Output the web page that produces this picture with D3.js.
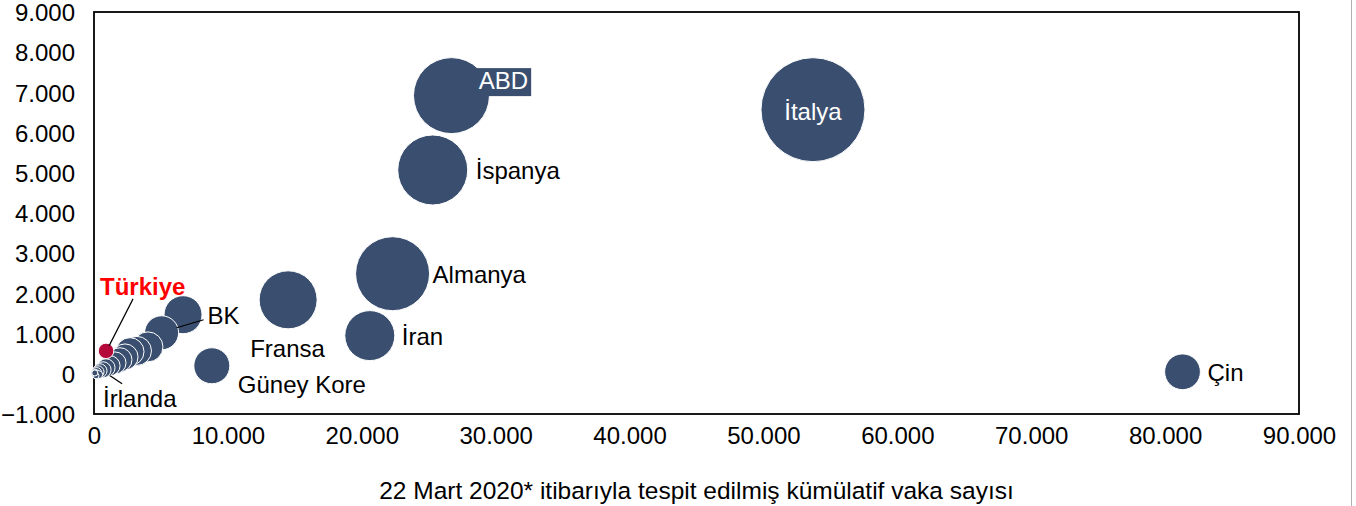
<!DOCTYPE html>
<html>
<head>
<meta charset="utf-8">
<script src="https://cdn.jsdelivr.net/npm/d3@7"></script>
<style>
  html, body { margin: 0; padding: 0; background: #fff; }
  svg { display: block; font-family: "Liberation Sans", Arial, sans-serif; }
</style>
</head>
<body>
<svg id="chart" width="1356" height="506"></svg>
<script>
// ---- Data ----
const countries = ["Çin","İtalya","ABD","İspanya","Almanya","İran","Fransa","Güney Kore","İsviçre","BK",
  "Hollanda","Avusturya","Belçika","Norveç","İsveç","Danimarka","Portekiz","Çekya","İrlanda","İsrail",
  "Lüksemburg","Finlandiya","Yunanistan","Polonya","Slovenya","İzlanda","Türkiye"];
const cases = [81300, 53700, 26700, 25300, 22300, 20600, 14500, 8800, 6650, 5050,
  4030, 3210, 2690, 2320, 1940, 1570, 1200, 900, 680, 450,
  300, 200, 120, 350, 150, 60, 900];
const yValues = [50, 6570, 6920, 5070, 2490, 950, 1840, 200, 1470, 1020,
  670, 570, 550, 420, 350, 270, 200, 150, 100, 75,
  50, 30, 10, -20, -50, 20, 570];
const sizes = [320, 2704, 1444, 1225, 1369, 625, 841, 324, 361, 289,
  225, 210, 196, 169, 144, 121, 100, 81, 64, 49,
  36, 25, 16, 16, 9, 9, 60];
const xTicks = [0, 10000, 20000, 30000, 40000, 50000, 60000, 70000, 80000, 90000];
const yTicks = [-1000, 0, 1000, 2000, 3000, 4000, 5000, 6000, 7000, 8000, 9000];
const xTitle = "22 Mart 2020* itibarıyla tespit edilmiş kümülatif vaka sayısı";
const highlight = "Türkiye";

// ---- Layout / style ----
const plot = { left: 94, top: 12, right: 1299, bottom: 414 };
const navy = "#3a4f6f";
const red = "#b5083a";
const labelCfg = {
  "ABD":        { dx: 52, dy: -15, anchor: "middle", color: "#fff", box: true },
  "İtalya":     { dx: 0, dy: 2, anchor: "middle", color: "#fff" },
  "İspanya":    { dx: 43, dy: 1, anchor: "start", color: "#000" },
  "Almanya":    { dx: 40, dy: 1, anchor: "start", color: "#000" },
  "Fransa":     { dx: -38, dy: 49, anchor: "start", color: "#000" },
  "İran":       { dx: 32, dy: 1, anchor: "start", color: "#000" },
  "Güney Kore": { dx: 26, dy: 19, anchor: "start", color: "#000" },
  "Çin":        { dx: 25, dy: 1, anchor: "start", color: "#000" },
  "BK":         { dx: 46, dy: -17, anchor: "start", color: "#000", leader: [[15, -5], [42, -13]] },
  "Türkiye":    { dx: -6, dy: -64, anchor: "start", color: "#ff0000", bold: true, leader: [[3, -5], [27, -52]] },
  "İrlanda":    { dx: 0, dy: 29, anchor: "start", color: "#000", leader: [[7, 6], [19, 14]] }
};

const svg = d3.select("#chart");

const x = d3.scaleLinear().domain([0, 90000]).range([plot.left, plot.right]);
const y = d3.scaleLinear().domain([-1000, 9000]).range([plot.bottom, plot.top]);
const r = d3.scaleSqrt().domain([0, d3.max(sizes)]).range([0, 52]);

const fmt = v => d3.format(",")(v).replace(/,/g, ".");

// outer frame line on the right
svg.append("line").attr("x1", 1351.5).attr("x2", 1351.5).attr("y1", 0).attr("y2", 506)
  .attr("stroke", "#b0b0b0").attr("stroke-width", 1);

// axes (labels only)
const xAxis = d3.axisBottom(x).tickValues(xTicks).tickFormat(fmt).tickSize(0).tickPadding(13);
const gx = svg.append("g").attr("transform", `translate(0,${plot.bottom})`).call(xAxis);
gx.select(".domain").remove();
gx.selectAll("text").attr("font-size", 24).attr("fill", "#000")
  .attr("font-family", "Liberation Sans, Arial, sans-serif");

const yAxis = d3.axisLeft(y).tickValues(yTicks).tickFormat(fmt).tickSize(0).tickPadding(19);
const gy = svg.append("g").attr("transform", `translate(${plot.left},0)`).call(yAxis);
gy.select(".domain").remove();
gy.selectAll("text").attr("font-size", 24).attr("fill", "#000").attr("dy", "0.36em")
  .attr("font-family", "Liberation Sans, Arial, sans-serif");

// plot frame
svg.append("rect")
  .attr("x", plot.left).attr("y", plot.top)
  .attr("width", plot.right - plot.left).attr("height", plot.bottom - plot.top)
  .attr("fill", "none").attr("stroke", "#000").attr("stroke-width", 1.8);

// axis title
svg.append("text")
  .attr("x", (plot.left + plot.right) / 2).attr("y", 499)
  .attr("text-anchor", "middle").attr("font-size", 24.5).attr("fill", "#000")
  .text(xTitle);

// bubbles
const data = countries.map((c, i) => ({ name: c, cases: cases[i], y: yValues[i], size: sizes[i] }));
svg.append("g").selectAll("circle")
  .data(data)
  .join("circle")
  .attr("cx", d => x(d.cases))
  .attr("cy", d => y(d.y))
  .attr("r", d => r(d.size))
  .attr("fill", d => d.name === highlight ? red : navy)
  .attr("stroke", "#fff")
  .attr("stroke-width", 1);

// labels
const lg = svg.append("g");
data.forEach(d => {
  const cfg = labelCfg[d.name];
  if (!cfg) return;
  const cx = x(d.cases), cy = y(d.y);
  if (cfg.leader) {
    lg.append("line")
      .attr("x1", cx + cfg.leader[0][0]).attr("y1", cy + cfg.leader[0][1])
      .attr("x2", cx + cfg.leader[1][0]).attr("y2", cy + cfg.leader[1][1])
      .attr("stroke", "#000").attr("stroke-width", 1.2);
  }
  const t = lg.append("text")
    .attr("x", cx + cfg.dx).attr("y", cy + cfg.dy)
    .attr("text-anchor", cfg.anchor)
    .attr("dominant-baseline", "central")
    .attr("font-size", 24)
    .attr("font-weight", cfg.bold ? "bold" : "normal")
    .attr("fill", cfg.color)
    .text(d.name);
  if (cfg.box) {
    const bb = t.node().getBBox();
    lg.insert("rect", () => t.node())
      .attr("x", bb.x - 3).attr("y", bb.y + 1)
      .attr("width", bb.width + 6).attr("height", bb.height + 1)
      .attr("fill", navy);
  }
});
</script>
</body>
</html>
